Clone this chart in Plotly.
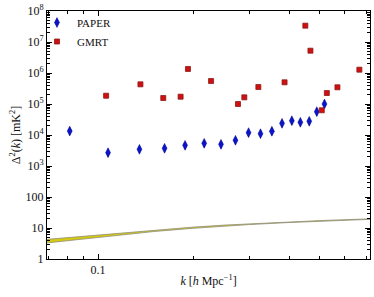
import plotly.graph_objects as go

# PAPER measurements
paper_k = [0.0814, 0.1075, 0.135, 0.162, 0.188, 0.216, 0.244, 0.271, 0.298, 0.325,
           0.353, 0.380, 0.408, 0.434, 0.463, 0.489, 0.517]
paper_d2 = [13400, 2690, 3460, 3720, 4650, 5400, 5010, 6750, 11900, 11000,
            13200, 23800, 28900, 25700, 27700, 56500, 100000]

# GMRT measurements
gmrt_k = [0.106, 0.136, 0.1605, 0.182, 0.192, 0.227, 0.276, 0.289, 0.320, 0.387,
          0.450, 0.467, 0.507, 0.526, 0.568, 0.666]
gmrt_d2 = [185000, 431000, 156000, 172000, 1350000, 552000, 100000, 164000, 353000,
           501000, 33600000, 5240000, 62700, 226000, 346000, 1280000]

# model band
band_k = [0.069, 0.08, 0.1, 0.12, 0.15, 0.2, 0.25, 0.3, 0.4, 0.5, 0.6, 0.72]
band_lo = [3.3, 3.9, 4.8, 5.9, 7.7, 9.8, 11.6, 12.9, 15.0, 16.6, 17.9, 19.0]
band_hi = [4.3, 4.9, 5.8, 6.9, 8.6, 10.7, 12.4, 13.7, 15.8, 17.3, 18.6, 19.7]

y_tickvals = [1, 10, 100, 1e3, 1e4, 1e5, 1e6, 1e7, 1e8]
y_ticktext = ["1", "10", "100", "10<sup>3</sup>", "10<sup>4</sup>", "10<sup>5</sup>",
              "10<sup>6</sup>", "10<sup>7</sup>", "10<sup>8</sup>"]
x_tickvals = [0.1]
x_ticktext = ["0.1"]

FONT = "Liberation Serif"

fig = go.Figure()

fig.add_trace(go.Scatter(x=band_k, y=band_lo, mode="lines",
                         line=dict(color="#8f8f80", width=0.8), showlegend=False,
                         hoverinfo="skip"))
fig.add_trace(go.Scatter(x=band_k, y=band_hi, mode="lines", fill="tonexty",
                         fillcolor="#d6ca10", line=dict(color="#8f8f80", width=0.8),
                         showlegend=False, hoverinfo="skip"))

fig.add_trace(go.Scatter(x=paper_k, y=paper_d2, mode="markers", name="PAPER",
                         marker=dict(symbol="diamond-tall", size=7, color="#0a14c8",
                                     line=dict(color="#00008b", width=0.5)),
                         error_y=dict(type="percent", value=25, thickness=1, width=0,
                                      color="#00008b")))
fig.add_trace(go.Scatter(x=gmrt_k, y=gmrt_d2, mode="markers", name="GMRT",
                         marker=dict(symbol="square", size=5, color="#d01010",
                                     line=dict(color="#8b1a1a", width=0.8))))

x_minor = [0.07, 0.08, 0.09, 0.2, 0.3, 0.4, 0.5, 0.6, 0.7]
y_minor = [m * 10 ** e for e in range(0, 8) for m in range(2, 10)]

fig.update_xaxes(type="log", range=[-1.161, -0.143], tickmode="array",
                 tickvals=x_tickvals, ticktext=x_ticktext, ticks="inside", ticklen=5,
                 showgrid=False, zeroline=False, showline=True, linecolor="black",
                 linewidth=1, mirror="allticks", tickcolor="black", automargin=False,
                 minor=dict(tickmode="array", tickvals=x_minor, ticks="inside",
                            ticklen=3, tickcolor="black", showgrid=False),
                 title=dict(text="<i>k</i> [<i>h</i> Mpc<sup>−1</sup>]", standoff=0,
                            font=dict(size=12)),
                 tickfont=dict(size=12))
fig.update_yaxes(type="log", range=[0, 8], tickmode="array",
                 tickvals=y_tickvals, ticktext=y_ticktext, ticks="inside", ticklen=5,
                 showgrid=False, zeroline=False, showline=True, linecolor="black",
                 linewidth=1, mirror="allticks", tickcolor="black", automargin=False,
                 minor=dict(tickmode="array", tickvals=y_minor, ticks="inside",
                            ticklen=3, tickcolor="black", showgrid=False),
                 title=dict(text="Δ<sup>2</sup>(<i>k</i>) [mK<sup>2</sup>]", standoff=2,
                            font=dict(size=12)),
                 tickfont=dict(size=12))

fig.update_layout(width=374, height=297, margin=dict(l=47, r=4, t=11, b=38),
                  paper_bgcolor="white", plot_bgcolor="white",
                  font=dict(family=FONT, color="#111111", size=12),
                  legend=dict(x=-0.031, y=1.012, xanchor="left", yanchor="top",
                              traceorder="normal",
                              bgcolor="rgba(0,0,0,0)", font=dict(size=11),
                              itemwidth=30, tracegroupgap=0))

fig.write_html("out.html", config={"displayModeBar": False},
               post_script="document.body.style.margin='0';document.body.style.padding='0';")
